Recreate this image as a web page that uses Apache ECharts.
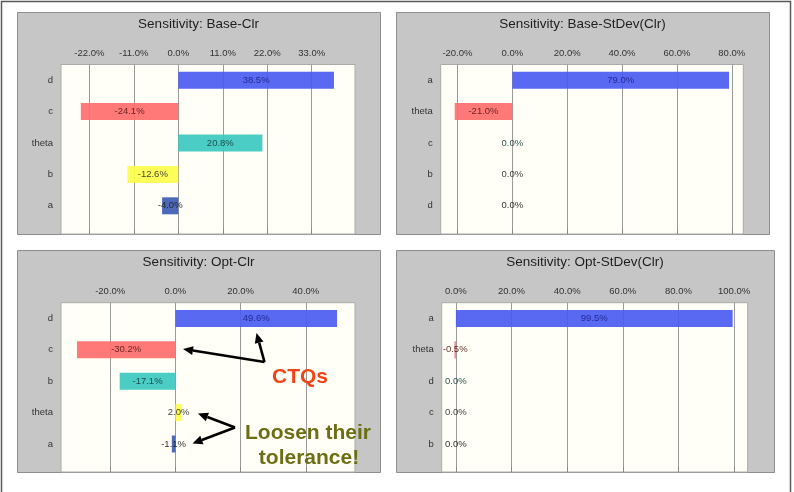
<!DOCTYPE html>
<html>
<head>
<meta charset="utf-8">
<script src="https://cdn.jsdelivr.net/npm/echarts@6/dist/echarts.min.js"></script>
<style>
html, body { margin: 0; padding: 0; background: #fff; }
#main { width: 794px; height: 492px; }
</style>
</head>
<body>
<div id="main"></div>
<script>
// titles of the four charts
var titles = ['Sensitivity: Base-Clr', 'Sensitivity: Base-StDev(Clr)', 'Sensitivity: Opt-Clr', 'Sensitivity: Opt-StDev(Clr)'];

// Base-Clr
var baseClrCats = ['d', 'c', 'theta', 'b', 'a'];
var baseClrValues = [38.5, -24.1, 20.8, -12.6, -4.0];
var baseClrTicks = [-22, -11, 0, 11, 22, 33];

// Base-StDev(Clr)
var baseSdCats = ['a', 'theta', 'c', 'b', 'd'];
var baseSdValues = [79.0, -21.0, 0.0, 0.0, 0.0];
var baseSdTicks = [-20, 0, 20, 40, 60, 80];

// Opt-Clr
var optClrCats = ['d', 'c', 'b', 'theta', 'a'];
var optClrValues = [49.6, -30.2, -17.1, 2.0, -1.1];
var optClrTicks = [-20, 0, 20, 40];

// Opt-StDev(Clr)
var optSdCats = ['a', 'theta', 'd', 'c', 'b'];
var optSdValues = [99.5, -0.5, 0.0, 0.0, 0.0];
var optSdTicks = [0, 20, 40, 60, 80, 100];

// colour by rank (1st, 2nd, ...)
var palette = ['#4c5cf0', '#ff6e6e', '#3cc8c0', '#ffff4c', '#3d5db2'];
var labelColors = ['#1c2590', '#5a1a1a', '#153f3d', '#333333', '#222222'];

var FONT = 'Liberation Sans, Arial, sans-serif';

// panel box [x, y, w, h], plot [left, top, width], visible axis range
var panels = [
  { box: [17, 12, 363, 222], plot: [61, 64.5, 294], range: [-29.0, 43.7], cats: baseClrCats, vals: baseClrValues, ticks: baseClrTicks },
  { box: [396, 12, 373, 222], plot: [440.7, 64.5, 302.6], range: [-26.1, 84.2], cats: baseSdCats, vals: baseSdValues, ticks: baseSdTicks },
  { box: [17, 250, 363, 222], plot: [61, 302.7, 294], range: [-35.1, 55.1], cats: optClrCats, vals: optClrValues, ticks: optClrTicks },
  { box: [396, 250, 378, 222], plot: [441.7, 302.7, 306], range: [-5.1, 104.9], cats: optSdCats, vals: optSdValues, ticks: optSdTicks }
];
var BAND = 31.4;

function pct(v) { return v.toFixed(1) + '%'; }

var grid = [], xAxis = [], yAxis = [], series = [], graphic = [];

// outer frame
graphic.push({ type: 'rect', z: -5, shape: { x: 1.5, y: 1.5, width: 789, height: 500 },
  style: { fill: '#fff', stroke: '#5a5a5a', lineWidth: 1.5 } });

panels.forEach(function (p, i) {
  var b = p.box, pl = p.plot;
  var bottom = b[1] + b[3];
  graphic.push({ type: 'rect', z: -4, shape: { x: b[0] + 0.5, y: b[1] + 0.5, width: b[2], height: b[3] },
    style: { fill: '#c6c6c6', stroke: '#8e8e8e', lineWidth: 1 } });
  graphic.push({ type: 'text', z: 10, x: b[0] + b[2] / 2, y: b[1] + 12,
    style: { text: titles[i], font: '13.5px ' + FONT, fill: '#1e1e1e', align: 'center', verticalAlign: 'middle' } });

  // background grid: cream area, ticks and vertical lines
  grid.push({ left: pl[0], top: pl[1], width: pl[2], height: bottom - pl[1], show: true,
    backgroundColor: '#fffff7', borderColor: '#ababab', borderWidth: 1 });
  // data grid: five category bands
  grid.push({ left: pl[0], top: pl[1], width: pl[2], height: BAND * p.cats.length });

  xAxis.push({
    gridIndex: 2 * i, type: 'value', position: 'top', min: p.range[0], max: p.range[1],
    axisLine: { show: false },
    axisTick: { show: true, length: 5, customValues: p.ticks, lineStyle: { color: '#8a8a8a' } },
    axisLabel: { customValues: p.ticks, formatter: pct, margin: 6, fontSize: 9.5, fontFamily: FONT, color: '#333' },
    splitLine: { show: true, lineStyle: { color: '#9a9a9a', width: 1 } }
  });
  yAxis.push({ gridIndex: 2 * i, type: 'value', show: false });

  xAxis.push({ gridIndex: 2 * i + 1, type: 'value', min: p.range[0], max: p.range[1], show: false });
  yAxis.push({
    gridIndex: 2 * i + 1, type: 'category', data: p.cats, inverse: true,
    axisLine: { show: false }, axisTick: { show: false }, splitLine: { show: false },
    axisLabel: { margin: 8, fontSize: 9.5, fontFamily: FONT, color: '#333' }
  });

  series.push({
    type: 'bar', xAxisIndex: 2 * i + 1, yAxisIndex: 2 * i + 1, barWidth: 17,
    data: p.vals.map(function (v, k) {
      return { value: v, itemStyle: { color: palette[k], opacity: 0.92 }, label: { color: labelColors[k] } };
    }),
    label: { show: true, position: 'inside', fontSize: 9.5, fontFamily: FONT,
      formatter: function (d) { return pct(d.value); } },
    silent: true, animation: false
  });
});

// annotation arrows on the Opt-Clr chart
function arrow(x1, y1, x2, y2) {
  var dx = x2 - x1, dy = y2 - y1, len = Math.sqrt(dx * dx + dy * dy);
  var ux = dx / len, uy = dy / len, hl = 10, hw = 4.5;
  var bx = x2 - ux * hl, by = y2 - uy * hl;
  graphic.push({ type: 'polyline', z: 20, shape: { points: [[x1, y1], [bx, by]] },
    style: { stroke: '#000', lineWidth: 2.6, fill: null } });
  graphic.push({ type: 'polygon', z: 20,
    shape: { points: [[x2, y2], [bx - uy * hw, by + ux * hw], [bx + uy * hw, by - ux * hw]] },
    style: { fill: '#000' } });
}
arrow(264.5, 362, 183, 349);
arrow(264.5, 362, 256.5, 333);
arrow(235, 427.5, 198, 413.5);
arrow(235, 427.5, 192.5, 443.5);

graphic.push({ type: 'text', z: 20, x: 300, y: 377,
  style: { text: 'CTQs', font: 'bold 21px ' + FONT, fill: '#f04418', align: 'center', verticalAlign: 'middle' } });
graphic.push({ type: 'text', z: 20, x: 308, y: 433,
  style: { text: 'Loosen their', font: 'bold 21px ' + FONT, fill: '#6b6e12', align: 'center', verticalAlign: 'middle' } });
graphic.push({ type: 'text', z: 20, x: 309, y: 458,
  style: { text: 'tolerance!', font: 'bold 21px ' + FONT, fill: '#6b6e12', align: 'center', verticalAlign: 'middle' } });

var myChart = echarts.init(document.getElementById('main'), null, { renderer: 'canvas' });
myChart.setOption({
  backgroundColor: '#fff',
  animation: false,
  grid: grid,
  xAxis: xAxis,
  yAxis: yAxis,
  series: series,
  graphic: graphic
});
</script>
</body>
</html>
